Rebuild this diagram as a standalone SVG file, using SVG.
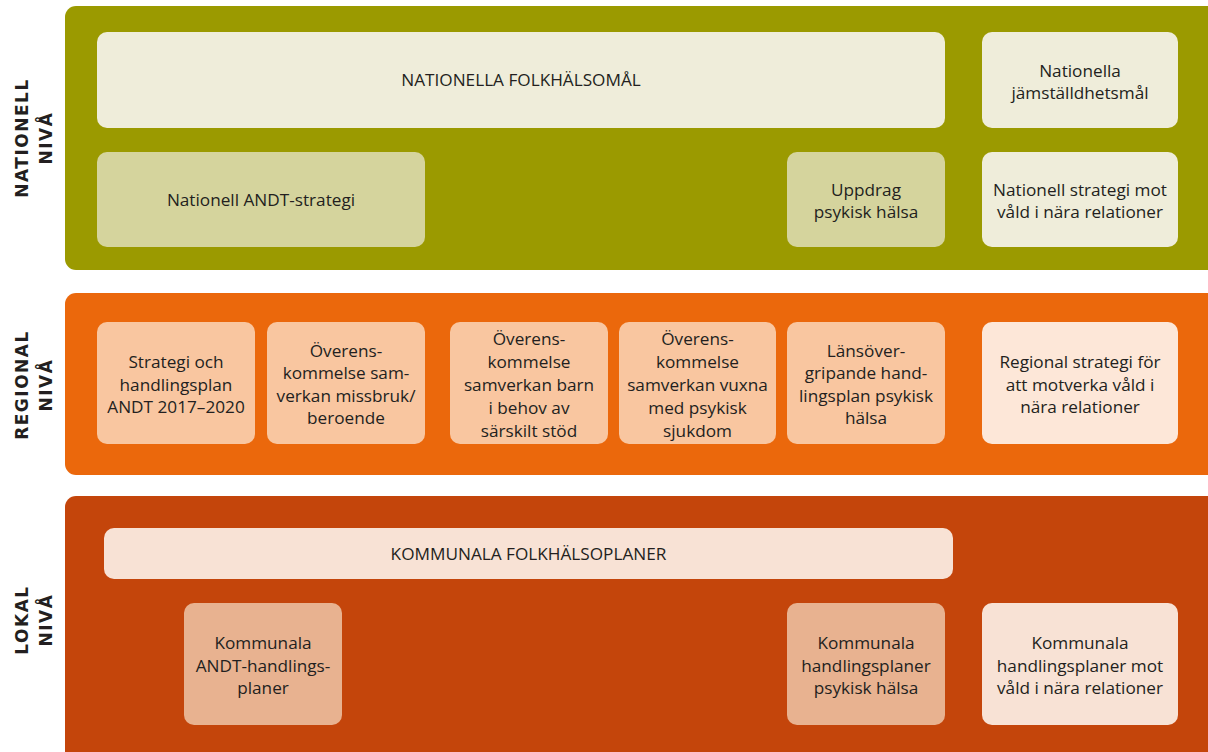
<svg xmlns="http://www.w3.org/2000/svg" width="1208" height="752" viewBox="0 0 1208 752">
<style>
.t{font-family:"Open Sans","Liberation Sans",Arial,sans-serif;font-size:17.2px;fill:#231f20;text-anchor:middle}
.lbl{font-family:"DejaVu Sans",sans-serif;font-weight:bold;font-size:17px;fill:#231f20;text-anchor:middle;letter-spacing:1.5px}
.natL{fill:#efedda}.natM{fill:#d5d49d}
.regB{fill:#f9c6a0}.regL{fill:#fde7d8}
.locL{fill:#f8e2d5}.locM{fill:#e8b290}
</style>
<rect width="1208" height="752" fill="#ffffff"/>
<g id="bands">
<rect x="65" y="6" width="1155" height="264" rx="11" fill="#9b9a00"/>
<rect x="65" y="293" width="1155" height="182" rx="11" fill="#eb680c"/>
<rect x="65" y="496" width="1155" height="270" rx="11" fill="#c4450b"/>
</g>
<g id="level-labels">
<g transform="translate(28,138) rotate(-90)"><text class="lbl" x="0" y="0">NATIONELL</text></g>
<g transform="translate(52,138) rotate(-90)"><text class="lbl" x="0" y="0">NIVÅ</text></g>
<g transform="translate(28,385) rotate(-90)"><text class="lbl" x="0" y="0">REGIONAL</text></g>
<g transform="translate(52,385) rotate(-90)"><text class="lbl" x="0" y="0">NIVÅ</text></g>
<g transform="translate(28,620) rotate(-90)"><text class="lbl" x="0" y="0">LOKAL</text></g>
<g transform="translate(52,620) rotate(-90)"><text class="lbl" x="0" y="0">NIVÅ</text></g>
</g>
<g id="n1"><rect class="natL" x="97" y="32" width="848" height="96" rx="10"/><text class="t" x="521" y="86">NATIONELLA FOLKHÄLSOMÅL</text></g>
<g id="n2"><rect class="natL" x="982" y="32" width="196" height="96" rx="10"/><text class="t" x="1080" y="77">Nationella</text><text class="t" x="1080" y="99">jämställdhetsmål</text></g>
<g id="n3"><rect class="natM" x="97" y="152" width="328" height="95" rx="10"/><text class="t" x="261" y="205.5">Nationell ANDT-strategi</text></g>
<g id="n4"><rect class="natM" x="787" y="152" width="158" height="95" rx="10"/><text class="t" x="866" y="196">Uppdrag</text><text class="t" x="866" y="218">psykisk hälsa</text></g>
<g id="n5"><rect class="natL" x="982" y="152" width="196" height="95" rx="10"/><text class="t" x="1080" y="196">Nationell strategi mot</text><text class="t" x="1080" y="218">våld i nära relationer</text></g>
<g id="r1"><rect class="regB" x="97" y="322" width="158" height="122" rx="10"/><text class="t" x="176" y="368">Strategi och</text><text class="t" x="176" y="390.5">handlingsplan</text><text class="t" x="176" y="413">ANDT 2017–2020</text></g>
<g id="r2"><rect class="regB" x="267" y="322" width="158" height="122" rx="10"/><text class="t" x="346" y="356.5">Överens-</text><text class="t" x="346" y="379">kommelse sam-</text><text class="t" x="346" y="401.5">verkan missbruk/</text><text class="t" x="346" y="424">beroende</text></g>
<g id="r3"><rect class="regB" x="450" y="322" width="158" height="122" rx="10"/><text class="t" x="529" y="344.5">Överens-</text><text class="t" x="529" y="367.5">kommelse</text><text class="t" x="529" y="390.5">samverkan barn</text><text class="t" x="529" y="413.5">i behov av</text><text class="t" x="529" y="436.5">särskilt stöd</text></g>
<g id="r4"><rect class="regB" x="619" y="322" width="157" height="122" rx="10"/><text class="t" x="697.5" y="344.5">Överens-</text><text class="t" x="697.5" y="367.5">kommelse</text><text class="t" x="697.5" y="390.5">samverkan vuxna</text><text class="t" x="697.5" y="413.5">med psykisk</text><text class="t" x="697.5" y="436.5">sjukdom</text></g>
<g id="r5"><rect class="regB" x="787" y="322" width="158" height="122" rx="10"/><text class="t" x="866" y="356.5">Länsöver-</text><text class="t" x="866" y="379">gripande hand-</text><text class="t" x="866" y="401.5">lingsplan psykisk</text><text class="t" x="866" y="424">hälsa</text></g>
<g id="r6"><rect class="regL" x="982" y="322" width="196" height="122" rx="10"/><text class="t" x="1080" y="368">Regional strategi för</text><text class="t" x="1080" y="390.5">att motverka våld i</text><text class="t" x="1080" y="413">nära relationer</text></g>
<g id="l1"><rect class="locL" x="104" y="528" width="849" height="51" rx="10"/><text class="t" x="528.5" y="559.5">KOMMUNALA FOLKHÄLSOPLANER</text></g>
<g id="l2"><rect class="locM" x="184" y="603" width="158" height="122" rx="10"/><text class="t" x="263" y="649">Kommunala</text><text class="t" x="263" y="671.5">ANDT-handlings-</text><text class="t" x="263" y="694">planer</text></g>
<g id="l3"><rect class="locM" x="787" y="603" width="158" height="122" rx="10"/><text class="t" x="866" y="649">Kommunala</text><text class="t" x="866" y="671.5">handlingsplaner</text><text class="t" x="866" y="694">psykisk hälsa</text></g>
<g id="l4"><rect class="locL" x="982" y="603" width="196" height="122" rx="10"/><text class="t" x="1080" y="649">Kommunala</text><text class="t" x="1080" y="671.5">handlingsplaner mot</text><text class="t" x="1080" y="694">våld i nära relationer</text></g>
<g id="connectors"></g>
</svg>
